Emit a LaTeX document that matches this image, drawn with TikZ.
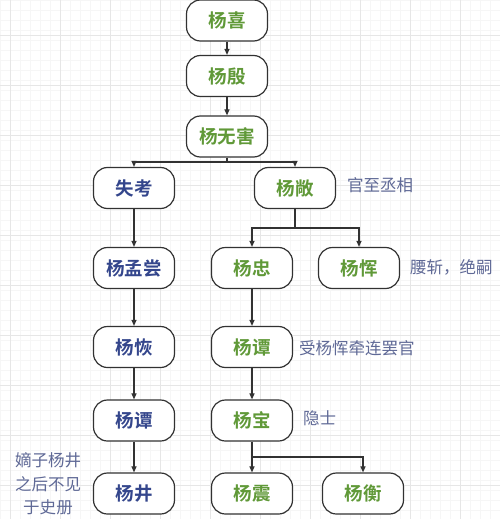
\documentclass[tikz,border=0pt]{standalone}
\usepackage{fontspec}
\newfontfamily\cjk{Noto Sans CJK SC}[BoldFont={Noto Sans CJK SC Bold}]
\usetikzlibrary{arrows.meta}
\definecolor{gtext}{RGB}{96,153,56}
\definecolor{btext}{RGB}{52,70,140}
\definecolor{ntext}{RGB}{95,105,150}
\definecolor{edge}{RGB}{50,50,50}
\definecolor{gridmin}{RGB}{246,246,246}
\definecolor{gridmaj}{RGB}{230,230,230}
\begin{document}
\begin{tikzpicture}[x=1pt,y=-1pt,
  person/.style={draw=edge, line width=1.2pt, fill=white, rounded corners=14pt,
    minimum width=81pt, minimum height=41pt, inner sep=0pt,
    font=\cjk\bfseries\fontsize{18.5}{20}\selectfont},
  gp/.style={person, text=gtext},
  bp/.style={person, text=btext},
  note/.style={text=ntext, inner sep=0pt, font=\cjk\fontsize{16.5}{23.5}\selectfont},
  link/.style={draw=edge, line width=1.1pt},
  arr/.style={link, -{Triangle[length=6pt,width=5pt]}}]
\useasboundingbox (0,0) rectangle (500,519);
\fill[white] (0,0) rectangle (500,519);
\foreach \i in {0,10,...,500} {\draw[gridmin, line width=0.6pt] (\i,0) -- (\i,519);}
\foreach \i in {0,10,...,519} {\draw[gridmin, line width=0.6pt] (0,\i) -- (500,\i);}
\foreach \i in {10,60,...,500} {\draw[gridmaj, line width=0.8pt] (\i,0) -- (\i,519);}
\foreach \i in {35,85,...,519} {\draw[gridmaj, line width=0.8pt] (0,\i) -- (500,\i);}

\node[gp] (yx) at (227,20.5) {杨喜};
\node[gp] (yy) at (227,76) {杨殷};
\node[gp] (ywh) at (227,136.5) {杨无害};
\node[bp] (sk) at (134,188) {失考};
\node[gp] (yc) at (295,188) {杨敞};
\node[bp] (ymc) at (134,268) {杨孟尝};
\node[gp] (yz) at (252,268) {杨忠};
\node[gp] (yh) at (359,268) {杨恽};
\node[bp] (yhui) at (134,347) {杨恢};
\node[gp] (ytr) at (252,347) {杨谭};
\node[bp] (ytl) at (134,420.5) {杨谭};
\node[gp] (yb) at (252,420.5) {杨宝};
\node[bp] (yj) at (134,493.5) {杨井};
\node[gp] (yzh) at (252,493.5) {杨震};
\node[gp] (yheng) at (363,493.5) {杨衡};

\node[note, anchor=west] (n1) at (347,185) {官至丞相};
\node[note, anchor=west] (n2) at (410,267) {腰斩，绝嗣};
\node[note, anchor=west] (n3) at (299,348) {受杨恽牵连罢官};
\node[note, anchor=west] (n4) at (303,418) {隐士};
\node[note, align=center] (n5) at (48,484) {嫡子杨井\\之后不见\\于史册};

\coordinate (j1) at (227,162);
\coordinate (j2) at (295,228);
\coordinate (j3) at (252,457);

\draw[arr] (yx) -- (yy);
\draw[arr] (yy) -- (ywh);
\draw[link] (ywh.south) -- (j1);
\draw[arr] (j1) -| (sk.north);
\draw[arr] (j1) -| (yc.north);
\draw[arr] (sk) -- (ymc);
\draw[arr] (ymc) -- (yhui);
\draw[arr] (yhui) -- (ytl);
\draw[arr] (ytl) -- (yj);
\draw[link] (yc.south) -- (j2);
\draw[arr] (j2) -| (yz.north);
\draw[arr] (j2) -| (yh.north);
\draw[arr] (yz) -- (ytr);
\draw[arr] (ytr) -- (yb);
\draw[link] (yb.south) -- (j3);
\draw[arr] (j3) -- (yzh.north);
\draw[arr] (j3) -| (yheng.north);
\end{tikzpicture}
\end{document}
